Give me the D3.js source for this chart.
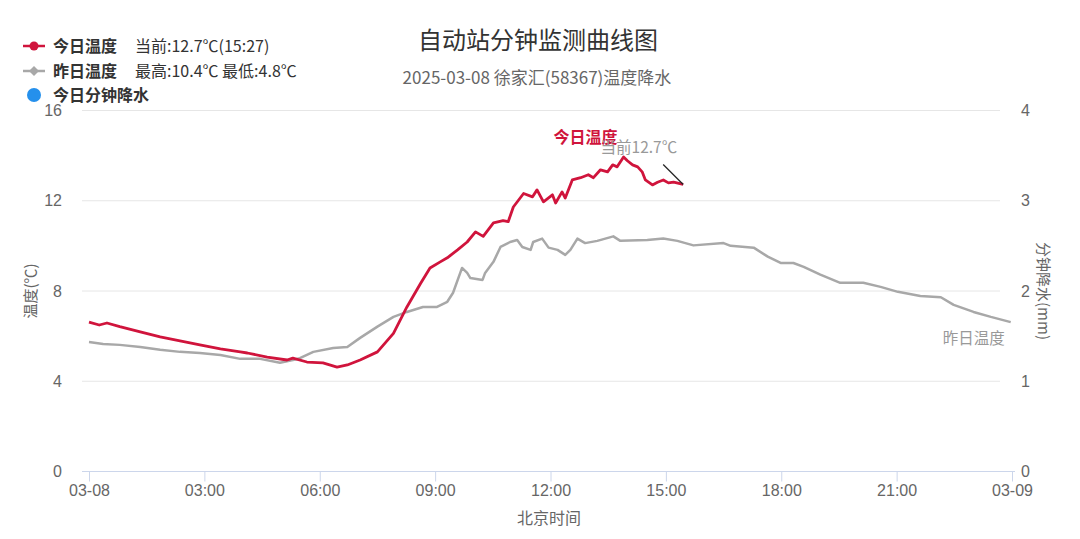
<!DOCTYPE html>
<html><head><meta charset="utf-8">
<script src="https://cdn.jsdelivr.net/npm/d3@7/dist/d3.min.js"></script>
<style>
body{margin:0;background:#fff;}
svg{display:block;font-family:"Noto Sans CJK SC","Noto Sans",sans-serif;}
</style></head>
<body><svg id="c" width="1080" height="539"></svg>
<script>
// time in minutes after 00:00 on 03-08
const todayTimes = [0,16,28,48,80,111,142,173,205,236,247,278,309,318,340,365,387,403,423,450,475,496,517,532,548,559,575,590,603,615,631,646,654,662,678,692,699,709,723,728,738,743,754,767,779,787,798,809,817,824,834,840,848,856,863,868,879,887,896,904,912,927];
const todayTemps = [6.6,6.47,6.56,6.4,6.17,5.94,5.77,5.59,5.41,5.28,5.23,5.05,4.92,5.0,4.83,4.79,4.6,4.7,4.92,5.28,6.1,7.27,8.3,9.0,9.27,9.45,9.8,10.15,10.6,10.4,11.0,11.1,11.05,11.7,12.3,12.15,12.46,11.93,12.24,11.88,12.37,12.1,12.9,13.0,13.13,13.0,13.35,13.26,13.57,13.48,13.92,13.75,13.57,13.48,13.26,12.9,12.68,12.8,12.9,12.77,12.8,12.7];
const yestTimes = [0,22,48,80,111,142,173,205,236,267,298,318,329,350,381,403,423,450,475,496,521,543,559,568,582,590,595,614,618,631,642,657,668,676,689,693,707,717,731,743,751,762,774,793,818,829,871,896,918,943,990,1001,1037,1059,1079,1099,1115,1141,1172,1208,1235,1262,1297,1329,1349,1380,1407,1438];
const yestTemps = [5.72,5.63,5.59,5.5,5.37,5.28,5.23,5.14,4.97,4.97,4.8,4.92,5.0,5.28,5.45,5.5,5.9,6.4,6.83,7.05,7.27,7.27,7.5,7.9,9.0,8.78,8.55,8.47,8.78,9.27,9.93,10.15,10.24,9.93,9.8,10.15,10.3,9.9,9.8,9.58,9.8,10.3,10.1,10.2,10.4,10.2,10.24,10.3,10.2,10.0,10.1,9.98,9.9,9.5,9.22,9.22,9.05,8.7,8.34,8.34,8.16,7.94,7.76,7.7,7.36,7.05,6.83,6.6];
const xTickTimes = [0,180,360,540,720,900,1080,1260,1440];
const xTickLabels = ["03-08","03:00","06:00","09:00","12:00","15:00","18:00","21:00","03-09"];
const tempTicks = [0,4,8,12,16];
const rainTicks = [0,1,2,3,4];

const RED="#d0143c", GRAY="#a8a8a8", BLUE="#2590ec";
const svg=d3.select("#c");
const x=d3.scaleLinear().domain([0,1440]).range([89,1012]);
const y=d3.scaleLinear().domain([0,16]).range([471,110]);
const y2=d3.scaleLinear().domain([0,4]).range([471,110]);

// title
svg.append("text").attr("x",538).attr("y",49).attr("text-anchor","middle").attr("font-size",24).attr("fill","#333").text("自动站分钟监测曲线图");
svg.append("text").attr("x",537).attr("y",84).attr("text-anchor","middle").attr("font-size",17).attr("fill","#666").text("2025-03-08 徐家汇(58367)温度降水");

// grid
svg.append("g").selectAll("line").data(tempTicks.slice(1)).join("line")
  .attr("x1",82).attr("x2",1000).attr("y1",d=>y(d)+0.5).attr("y2",d=>y(d)+0.5)
  .attr("stroke","#e6e6e6").attr("stroke-width",1);

// left axis labels
const gl=svg.append("g").attr("transform","translate(62,0)")
  .call(d3.axisLeft(y).tickValues(tempTicks).tickSize(0).tickPadding(0));
gl.select(".domain").remove();
gl.selectAll("text").attr("font-size",16).attr("fill","#666").attr("font-family",null).attr("dy","0.35em");

// right axis labels
const gr=svg.append("g").attr("transform","translate(1021,0)")
  .call(d3.axisRight(y2).tickValues(rainTicks).tickFormat(d3.format("d")).tickSize(0).tickPadding(0));
gr.select(".domain").remove();
gr.selectAll("text").attr("font-size",16).attr("fill","#666").attr("font-family",null).attr("dy","0.35em");

// x axis
const gx=svg.append("g").attr("transform","translate(0,471.5)")
  .call(d3.axisBottom(x).tickValues(xTickTimes).tickFormat((d,i)=>xTickLabels[i]).tickSize(10).tickSizeOuter(0).tickPadding(3));
gx.select(".domain").attr("stroke","#ccd6eb").attr("d","M82,0H1015");
gx.selectAll(".tick line").attr("stroke","#ccd6eb");
gx.selectAll("text").attr("font-size",16).attr("fill","#666").attr("font-family",null);

// axis titles
svg.append("text").attr("transform","translate(36,291) rotate(-90)").attr("text-anchor","middle").attr("font-size",15).attr("fill","#666").text("温度(℃)");
svg.append("text").attr("transform","translate(1038,291) rotate(90)").attr("text-anchor","middle").attr("font-size",15).attr("fill","#666").text("分钟降水(mm)");
svg.append("text").attr("x",549).attr("y",524).attr("text-anchor","middle").attr("font-size",16).attr("fill","#666").text("北京时间");

// lines
const line=d3.line().x(d=>x(d[0])).y(d=>y(d[1]));
const yData=yestTimes.map((t,i)=>[t,yestTemps[i]]);
const tData=todayTimes.map((t,i)=>[t,todayTemps[i]]);
svg.append("path").datum(yData).attr("d",line).attr("fill","none").attr("stroke",GRAY).attr("stroke-width",2.5).attr("stroke-linejoin","round");
svg.append("path").datum(tData).attr("d",line).attr("fill","none").attr("stroke",RED).attr("stroke-width",2.8).attr("stroke-linejoin","round");

// data labels
const last=tData[tData.length-1];
const peakIdx=d3.maxIndex(todayTemps);
svg.append("text").attr("x",x(todayTimes[peakIdx])-38).attr("y",y(todayTemps[peakIdx])-14).attr("text-anchor","middle")
  .attr("font-size",16).attr("font-weight","bold").attr("fill",RED).text("今日温度");
svg.append("line").attr("x1",x(last[0])-20).attr("y1",y(last[1])-20).attr("x2",x(last[0])).attr("y2",y(last[1]))
  .attr("stroke","#222").attr("stroke-width",1.2);
svg.append("text").attr("x",x(last[0])-6).attr("y",y(last[1])-31).attr("text-anchor","end")
  .attr("font-size",15.5).attr("fill","#999").text("当前12.7℃");
const yl=yData[yData.length-1];
svg.append("text").attr("x",x(yl[0])-6).attr("y",y(yl[1])+22).attr("text-anchor","end")
  .attr("font-size",15.5).attr("fill","#999").text("昨日温度");

// legend
const lg=svg.append("g");
lg.append("line").attr("x1",23).attr("x2",45).attr("y1",46).attr("y2",46).attr("stroke",RED).attr("stroke-width",2.5);
lg.append("circle").attr("cx",34).attr("cy",46).attr("r",4.5).attr("fill",RED);
lg.append("text").attr("x",53).attr("y",52).attr("font-size",16).attr("font-weight","bold").attr("fill","#333").text("今日温度");
lg.append("text").attr("x",135).attr("y",52).attr("font-size",16).attr("fill","#333").text("当前:12.7℃(15:27)");
lg.append("line").attr("x1",23).attr("x2",45).attr("y1",71).attr("y2",71).attr("stroke",GRAY).attr("stroke-width",2.5);
lg.append("path").attr("d","M34,66L39,71L34,76L29,71Z").attr("fill",GRAY);
lg.append("text").attr("x",53).attr("y",77).attr("font-size",16).attr("font-weight","bold").attr("fill","#333").text("昨日温度");
lg.append("text").attr("x",135).attr("y",77).attr("font-size",16).attr("fill","#333").text("最高:10.4℃ 最低:4.8℃");
lg.append("circle").attr("cx",34).attr("cy",95).attr("r",7).attr("fill",BLUE);
lg.append("text").attr("x",53).attr("y",101).attr("font-size",16).attr("font-weight","bold").attr("fill","#333").text("今日分钟降水");
</script></body></html>
